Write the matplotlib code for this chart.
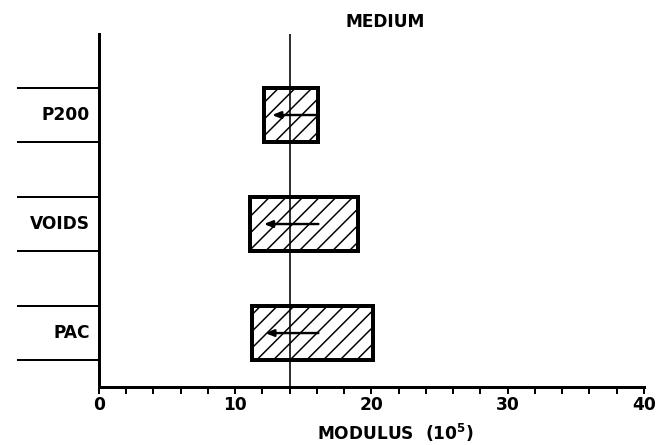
import matplotlib
matplotlib.use("Agg")
import matplotlib.pyplot as plt

# modulus ranges per factor (10^5)
factors = ["PAC", "VOIDS", "P200"]
low = [11.2, 11.1, 12.1]
high = [20.1, 19.0, 16.1]
arrow_from = [16.1, 16.1, 16.0]
arrow_to = [12.2, 12.1, 12.7]
reference = 14.0

DPI = 100
PX = 72 / DPI   # one pixel in points

plt.rcParams['font.family'] = ['DejaVu Sans']
plt.rcParams['font.weight'] = 'bold'
plt.rcParams['hatch.linewidth'] = 1.5 * PX

fig = plt.figure(figsize=(667 / DPI, 445 / DPI), dpi=DPI)
ax = fig.add_axes([0.1484, 0.1303, 0.8171, 0.7933])

fs = 17 * PX

ypos = list(range(len(factors)))
widths = [h - l for l, h in zip(low, high)]
ax.barh(ypos, widths, left=low, height=0.5, color='white',
        edgecolor='black', linewidth=4 * PX, hatch='//', zorder=2)

# shift arrows
for y, a, b in zip(ypos, arrow_from, arrow_to):
    ax.annotate('', xy=(b, y), xytext=(a, y),
                arrowprops=dict(arrowstyle='-|>,head_length=0.5,head_width=0.2',
                                color='black', lw=2.4 * PX, shrinkA=0, shrinkB=0),
                zorder=4)

ax.axvline(reference, color='black', lw=1.6 * PX, zorder=3)

# label boxes on the left
trans = ax.get_yaxis_transform()
for y, name in zip(ypos, factors):
    for edge in (y - 0.25, y + 0.25):
        ax.plot([-0.1486, 0], [edge, edge], color='black', lw=2 * PX,
                transform=trans, clip_on=False)
    ax.text(-0.0165, y, name, transform=trans, ha='right', va='center',
            fontsize=fs, fontweight='bold')

ax.set_xlim(0, 40)
ax.set_ylim(-0.495, 2.743)
ax.set_xticks(range(0, 41, 10))
ax.set_xticks(range(0, 41, 2), minor=True)
ax.set_yticks([])
ax.tick_params(axis='x', which='both', direction='out', length=7 * PX, width=2 * PX)
ax.tick_params(axis='x', which='major', labelsize=fs, pad=2 * PX)
for lab in ax.get_xticklabels():
    lab.set_fontweight('bold')

ax.spines['top'].set_visible(False)
ax.spines['right'].set_visible(False)
ax.spines['left'].set_linewidth(3 * PX)
ax.spines['bottom'].set_linewidth(3 * PX)

ax.set_xlabel('MODULUS  (10$^{\\mathbf{5}}$)', fontsize=fs, fontweight='bold')
ax.xaxis.label.set_va('center')
ax.xaxis.set_label_coords(0.543, -0.13)

fig.text(385 / 667, 1 - 22 / 445, 'MEDIUM', ha='center', va='center',
         fontsize=fs, fontweight='bold')

fig.savefig('out.png', dpi=DPI)
